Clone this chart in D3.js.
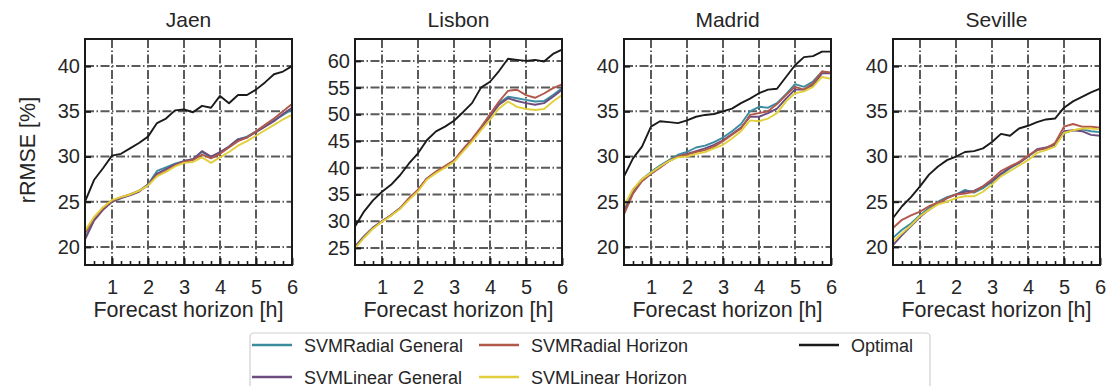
<!DOCTYPE html>
<html>
<head>
<meta charset="utf-8">
<script src="https://cdn.jsdelivr.net/npm/d3@7"></script>
<style>
  body { margin: 0; background: #fff; }
  text { font-family: "Liberation Sans", Arial, sans-serif; fill: #262626; }
</style>
</head>
<body>
<script>
// forecast horizon in hours (15 min steps)
var hours = [0.25, 0.5, 0.75, 1, 1.25, 1.5, 1.75, 2, 2.25, 2.5, 2.75, 3,
             3.25, 3.5, 3.75, 4, 4.25, 4.5, 4.75, 5, 5.25, 5.5, 5.75, 6];

var cities = ["Jaen", "Lisbon", "Madrid", "Seville"];
var seriesNames = ["SVMRadial General", "SVMLinear General", "SVMRadial Horizon", "SVMLinear Horizon", "Optimal"];

// rRMSE [%] per city
var jaenRadialGeneral = [21.0, 23.0, 24.2, 25.0, 25.4, 25.8, 26.2, 26.9, 28.4, 28.8, 29.2, 29.5, 29.7, 30.5, 29.9, 30.4, 31.1, 31.9, 32.2, 32.8, 33.4, 34.0, 34.6, 35.2];
var jaenLinearGeneral = [20.8, 22.9, 24.1, 25.0, 25.4, 25.7, 26.1, 26.9, 28.1, 28.6, 29.1, 29.5, 29.7, 30.6, 30.0, 30.5, 31.1, 31.9, 32.1, 32.7, 33.3, 33.9, 34.7, 35.4];
var jaenRadialHorizon = [21.5, 23.2, 24.3, 25.1, 25.5, 25.8, 26.2, 26.8, 27.9, 28.4, 29.0, 29.4, 29.6, 30.2, 29.8, 30.3, 31.0, 31.7, 32.1, 32.8, 33.5, 34.2, 35.0, 35.8];
var jaenLinearHorizon = [21.8, 23.3, 24.4, 25.2, 25.5, 25.8, 26.2, 26.8, 27.8, 28.3, 28.9, 29.3, 29.4, 29.9, 29.3, 29.9, 30.5, 31.2, 31.7, 32.3, 32.9, 33.5, 34.1, 34.6];
var jaenOptimal = [25.0, 27.4, 28.7, 30.1, 30.3, 30.9, 31.5, 32.2, 33.7, 34.2, 35.1, 35.2, 34.9, 35.6, 35.4, 36.7, 35.9, 36.8, 36.8, 37.4, 38.2, 39.1, 39.4, 40.0];

var lisbonRadialGeneral = [25.3, 27.2, 28.8, 30.0, 31.1, 32.4, 34.2, 35.8, 38.0, 39.2, 40.2, 41.3, 43.3, 45.2, 47.4, 49.6, 52.1, 53.3, 53.0, 52.7, 52.4, 52.5, 53.6, 54.9];
var lisbonLinearGeneral = [25.2, 27.1, 28.8, 30.0, 31.1, 32.4, 34.2, 35.8, 38.0, 39.2, 40.2, 41.2, 43.3, 45.2, 47.4, 49.6, 51.8, 53.0, 52.5, 52.1, 51.8, 52.1, 53.3, 54.6];
var lisbonRadialHorizon = [25.0, 27.0, 28.7, 30.0, 31.1, 32.4, 34.3, 35.9, 38.0, 39.3, 40.3, 41.4, 43.5, 45.4, 47.6, 50.0, 52.4, 54.4, 54.6, 53.6, 53.1, 53.9, 54.9, 55.6];
var lisbonLinearHorizon = [24.9, 26.9, 28.6, 29.9, 31.0, 32.3, 34.0, 35.6, 37.8, 39.0, 40.0, 41.1, 43.0, 44.9, 47.0, 49.0, 51.1, 52.4, 51.4, 51.0, 50.8, 51.0, 52.4, 53.6];
var lisbonOptimal = [29.0, 31.8, 33.9, 35.5, 36.8, 38.6, 40.8, 42.7, 45.2, 46.8, 47.7, 48.8, 50.4, 52.1, 55.0, 56.1, 58.1, 60.4, 60.2, 60.0, 60.2, 59.9, 61.3, 62.1];

var madridRadialGeneral = [24.3, 26.3, 27.5, 28.3, 29.0, 29.6, 30.2, 30.5, 31.0, 31.2, 31.6, 32.1, 32.8, 33.6, 35.0, 35.5, 35.4, 35.9, 36.9, 38.0, 37.7, 38.3, 39.4, 39.2];
var madridLinearGeneral = [23.9, 26.0, 27.3, 28.1, 28.8, 29.5, 30.0, 30.3, 30.6, 30.9, 31.3, 31.8, 32.5, 33.2, 34.4, 34.4, 34.8, 35.3, 36.4, 37.4, 37.4, 37.9, 39.2, 39.2];
var madridRadialHorizon = [23.6, 25.9, 27.3, 28.1, 28.8, 29.5, 30.0, 30.2, 30.5, 30.7, 31.1, 31.7, 32.4, 33.1, 34.6, 34.8, 35.0, 35.8, 36.8, 37.7, 37.4, 38.1, 39.4, 39.3];
var madridLinearHorizon = [24.5, 26.4, 27.5, 28.2, 28.9, 29.5, 29.9, 30.0, 30.3, 30.5, 30.9, 31.3, 32.0, 32.8, 34.0, 33.9, 34.2, 34.8, 36.1, 37.0, 37.2, 37.7, 38.8, 38.6];
var madridOptimal = [27.8, 29.8, 31.1, 33.3, 33.9, 33.8, 33.7, 34.0, 34.4, 34.6, 34.7, 35.0, 35.3, 35.9, 36.4, 37.0, 37.4, 37.5, 38.8, 40.1, 41.0, 41.1, 41.6, 41.6];

var sevilleRadialGeneral = [21.0, 21.9, 22.6, 23.5, 24.3, 25.0, 25.5, 25.8, 26.3, 26.0, 26.5, 27.2, 28.0, 28.7, 29.3, 30.0, 30.7, 30.9, 31.3, 32.6, 32.9, 33.0, 32.8, 32.7];
var sevilleLinearGeneral = [20.2, 21.3, 22.3, 23.3, 24.1, 24.8, 25.4, 25.8, 26.1, 26.2, 26.7, 27.3, 28.1, 28.8, 29.3, 30.0, 30.8, 31.0, 31.3, 32.8, 32.9, 32.8, 32.4, 32.3];
var sevilleRadialHorizon = [22.1, 23.0, 23.5, 23.9, 24.5, 24.9, 25.4, 25.8, 25.9, 26.1, 26.7, 27.5, 28.4, 28.9, 29.4, 30.1, 30.7, 30.9, 31.5, 33.3, 33.6, 33.3, 33.3, 33.2];
var sevilleLinearHorizon = [20.6, 21.5, 22.4, 23.4, 24.1, 24.7, 25.0, 25.4, 25.6, 25.6, 26.1, 26.9, 27.8, 28.4, 29.0, 29.6, 30.4, 30.7, 31.1, 32.6, 32.9, 33.1, 33.1, 33.0];
var sevilleOptimal = [23.2, 24.5, 25.5, 26.7, 28.0, 28.9, 29.6, 30.0, 30.5, 30.6, 30.9, 31.6, 32.5, 32.3, 33.1, 33.4, 33.8, 34.1, 34.2, 35.4, 36.1, 36.6, 37.1, 37.5];

var xTicks = [1, 2, 3, 4, 5, 6];
var xMinorTicks = [0.5, 0.75, 1.25, 1.5, 1.75, 2.25, 2.5, 2.75, 3.25, 3.5, 3.75, 4.25, 4.5, 4.75, 5.25, 5.5, 5.75];
var yTicksSmall = [20, 25, 30, 35, 40];
var yTicksLisbon = [25, 30, 35, 40, 45, 50, 55, 60];

var colors = ["#3c8ca0", "#6c4d7e", "#b0584a", "#e2cf3c", "#1a1a1a"];

var panelData = [
  [jaenRadialGeneral, jaenLinearGeneral, jaenRadialHorizon, jaenLinearHorizon, jaenOptimal],
  [lisbonRadialGeneral, lisbonLinearGeneral, lisbonRadialHorizon, lisbonLinearHorizon, lisbonOptimal],
  [madridRadialGeneral, madridLinearGeneral, madridRadialHorizon, madridLinearHorizon, madridOptimal],
  [sevilleRadialGeneral, sevilleLinearGeneral, sevilleRadialHorizon, sevilleLinearHorizon, sevilleOptimal]
];

var width = 1110,
    height = 386;

var svg = d3.select("body")
  .append("svg")
  .attr("width", width)
  .attr("height", height);

// panel frame geometry
var panelLeft = [85, 355, 624, 893],
    panelW = 207,
    plotTop = 39,
    plotBottom = 265,
    panelH = plotBottom - plotTop;

cities.forEach(function(city, i){
  var isLisbon = city === "Lisbon";
  var yDomain = isLisbon ? [21.8, 64.1] : [18, 43];
  var yTicks = isLisbon ? yTicksLisbon : yTicksSmall;

  var x = d3.scaleLinear().domain([0.25, 6]).range([0, panelW]);
  var y = d3.scaleLinear().domain(yDomain).range([panelH, 0]);

  var g = svg.append("g")
    .attr("transform", "translate(" + panelLeft[i] + "," + plotTop + ")");

  // grid, dash-dot grey
  g.selectAll(".gx").data(xTicks).enter().append("line")
    .attr("x1", d => x(d)).attr("x2", d => x(d))
    .attr("y1", 0).attr("y2", panelH)
    .attr("stroke", "#5a5a5a").attr("stroke-width", 2)
    .attr("stroke-dasharray", "9,2.5,1.5,2.5");
  g.selectAll(".gy").data(yTicks).enter().append("line")
    .attr("x1", 0).attr("x2", panelW)
    .attr("y1", d => y(d)).attr("y2", d => y(d))
    .attr("stroke", "#5a5a5a").attr("stroke-width", 2)
    .attr("stroke-dasharray", "9,2.5,1.5,2.5");

  // lines
  var line = d3.line()
    .x((d, k) => x(hours[k]))
    .y(d => y(d));
  panelData[i].forEach(function(vals, s){
    g.append("path")
      .datum(vals)
      .attr("d", line)
      .attr("fill", "none")
      .attr("stroke", colors[s])
      .attr("stroke-width", 1.9)
      .attr("stroke-linejoin", "round");
  });

  // axes with inward ticks
  var yAxis = d3.axisLeft(y).tickValues(yTicks).tickSize(-6).tickPadding(5).tickFormat(d3.format("d"));
  var gy = g.append("g").call(yAxis);
  gy.select(".domain").remove();
  gy.selectAll("line").attr("stroke", "#1a1a1a").attr("stroke-width", 2);
  gy.selectAll("text").style("font-size", "20px").attr("fill", "#262626")
    .style("font-family", "Liberation Sans, Arial, sans-serif");

  var xAxis = d3.axisBottom(x).tickValues(xTicks).tickSize(-7).tickPadding(15).tickFormat(d3.format("d"));
  var gx = g.append("g").attr("transform", "translate(0," + panelH + ")").call(xAxis);
  gx.select(".domain").remove();
  gx.selectAll("line").attr("stroke", "#1a1a1a").attr("stroke-width", 2);
  gx.selectAll("text").style("font-size", "20px").attr("fill", "#262626")
    .style("font-family", "Liberation Sans, Arial, sans-serif");

  var xMinor = d3.axisBottom(x).tickValues(xMinorTicks).tickSize(-4).tickFormat("");
  var gm = g.append("g").attr("transform", "translate(0," + panelH + ")").call(xMinor);
  gm.select(".domain").remove();
  gm.selectAll("line").attr("stroke", "#1a1a1a").attr("stroke-width", 1.6);

  // frame
  g.append("rect")
    .attr("width", panelW).attr("height", panelH)
    .attr("fill", "none").attr("stroke", "#1a1a1a").attr("stroke-width", 2);

  // title + x label
  g.append("text")
    .attr("x", panelW / 2).attr("y", -12)
    .attr("text-anchor", "middle")
    .style("font-size", "21px")
    .text(city);
  g.append("text")
    .attr("x", panelW / 2).attr("y", 317 - plotTop)
    .attr("text-anchor", "middle")
    .style("font-size", "21.5px")
    .text("Forecast horizon [h]");
});

// y label
svg.append("text")
  .attr("transform", "translate(35,150) rotate(-90)")
  .attr("text-anchor", "middle")
  .style("font-size", "21.5px")
  .text("rRMSE [%]");

// legend
var legend = svg.append("g");
legend.append("rect")
  .attr("x", 250).attr("y", 333).attr("width", 680).attr("height", 70)
  .attr("rx", 4)
  .attr("fill", "#fff").attr("stroke", "#cfcfcf").attr("stroke-width", 1.2);

var legendPos = [[252, 345], [252, 377], [479, 345], [479, 377], [799, 345]];
seriesNames.forEach(function(name, s){
  var p = legendPos[s];
  legend.append("line")
    .attr("x1", p[0]).attr("x2", p[0] + 40)
    .attr("y1", p[1]).attr("y2", p[1])
    .attr("stroke", colors[s]).attr("stroke-width", 2.5);
  legend.append("text")
    .attr("x", p[0] + 52).attr("y", p[1] + 6.5)
    .style("font-size", "18px")
    .text(name);
});
</script>
</body>
</html>
